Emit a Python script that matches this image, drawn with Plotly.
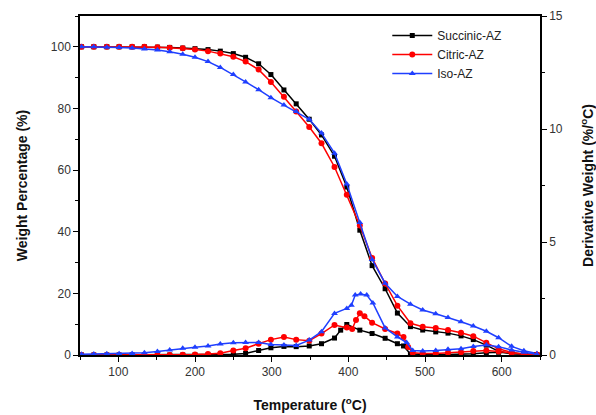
import plotly.graph_objects as go

# ---------------- data ----------------
temp_tga = [52, 68, 85, 101, 118, 134, 151, 167, 184, 200, 217, 233, 250, 266, 283, 299,
            316, 332, 349, 365, 382, 398, 415, 431, 448, 464, 481, 497, 514, 530, 547,
            563, 580, 596, 613, 629, 646]

tga_succinic = [100, 100, 100, 100, 100, 100, 99.9, 99.8, 99.6, 99.4, 99.1, 98.6, 97.8, 96.6,
                94.5, 91, 86, 81.5, 76.5, 71.4, 64.5, 54.5, 40.5, 29, 21.5, 13.6, 9.2, 8.1,
                7.5, 7.1, 6.2, 5.0, 3.2, 1.2, 0.4, 0.1, 0.0]
tga_citric = [100, 100, 100, 100, 100, 100, 99.9, 99.7, 99.5, 99.1, 98.6, 97.8, 96.8, 95.2,
              92.6, 88.6, 83.8, 79, 74, 68.7, 61, 52, 42, 31.5, 23.2, 16, 10.3, 9.2, 8.8,
              8.1, 7.2, 6.1, 4.0, 2.0, 0.8, 0.3, 0.1]
tga_iso = [100, 100, 99.9, 99.8, 99.6, 99.3, 99, 98.4, 97.6, 96.6, 95.2, 93.3, 91, 88.6,
           86.1, 83.5, 81.1, 79, 76.5, 72, 65.5, 55.5, 43, 31, 23.3, 19, 16.5, 14.6, 13.4,
           12.2, 10.8, 9.4, 7.7, 5.6, 2.8, 1.4, 0.5]

temp_dtg_succinic = [52, 68, 85, 101, 118, 134, 151, 167, 184, 200, 217, 233, 250, 266, 283,
                     299, 316, 332, 349, 365, 382, 390, 398, 415, 431, 448, 464, 472, 481,
                     497, 514, 530, 547, 563, 580, 596, 613, 629, 646]
dtg_succinic = [0, 0, 0, 0, 0, 0, 0, 0, 0, 0, 0, 0.02, 0.03, 0.07, 0.2, 0.32, 0.38, 0.37,
                0.4, 0.5, 0.75, 1.1, 1.35, 1.1, 0.95, 0.74, 0.5, 0.4, 0.04, 0.02, 0.02, 0.02,
                0.03, 0.05, 0.1, 0.12, 0.08, 0.03, 0.01]

temp_dtg_citric = [52, 68, 85, 101, 118, 134, 151, 167, 184, 200, 217, 233, 250, 266, 283,
                   299, 316, 332, 349, 365, 382, 398, 405, 410, 415, 421, 431, 448, 464, 472,
                   478, 484, 497, 514, 530, 547, 563, 580, 596, 613, 629, 646]
dtg_citric = [0, 0, 0, 0, 0, 0, 0, 0, 0.01, 0.02, 0.04, 0.08, 0.2, 0.3, 0.5, 0.68, 0.8, 0.68,
              0.63, 0.95, 1.33, 1.22, 1.15, 1.55, 1.85, 1.72, 1.43, 1.15, 0.95, 0.8, 0.35,
              0.1, 0.07, 0.07, 0.1, 0.12, 0.18, 0.2, 0.15, 0.08, 0.03, 0.01]

temp_dtg_iso = [52, 68, 85, 101, 118, 134, 151, 167, 184, 200, 217, 233, 250, 266, 283, 299,
                316, 332, 349, 365, 382, 398, 404, 409, 416, 424, 432, 448, 464, 476, 484,
                497, 514, 530, 547, 563, 580, 596, 613, 629, 646]
dtg_iso = [0.03, 0.04, 0.05, 0.06, 0.07, 0.1, 0.15, 0.22, 0.3, 0.34, 0.4, 0.49, 0.54, 0.55,
           0.55, 0.46, 0.44, 0.42, 0.66, 1.03, 1.84, 2.06, 2.2, 2.65, 2.7, 2.65, 2.3, 1.2,
           0.8, 0.55, 0.2, 0.18, 0.2, 0.25, 0.28, 0.38, 0.44, 0.37, 0.22, 0.12, 0.03]

names = ["Succinic-AZ", "Citric-AZ", "Iso-AZ"]
colors = ["#000000", "#ff0000", "#1f3fff"]
symbols = ["square", "circle", "triangle-up"]
sizes = [5, 6, 6]

x_ticks = [100, 200, 300, 400, 500, 600]

# ---------------- figure ----------------
fig = go.Figure()

tga_sets = [tga_succinic, tga_citric, tga_iso]
dtg_sets = [(temp_dtg_succinic, dtg_succinic), (temp_dtg_citric, dtg_citric),
            (temp_dtg_iso, dtg_iso)]

for i in range(3):
    fig.add_trace(go.Scatter(
        x=temp_tga, y=tga_sets[i], name=names[i], mode="lines+markers",
        line=dict(color=colors[i], width=1.5),
        marker=dict(symbol=symbols[i], size=sizes[i], color=colors[i]),
        yaxis="y", showlegend=True))

for i in range(3):
    tx, dy = dtg_sets[i]
    fig.add_trace(go.Scatter(
        x=tx, y=dy, name=names[i], mode="lines+markers",
        line=dict(color=colors[i], width=1.5),
        marker=dict(symbol=symbols[i], size=sizes[i], color=colors[i]),
        yaxis="y2", showlegend=False))

font_family = "Liberation Sans, Arial, sans-serif"

fig.update_layout(
    width=596, height=415,
    margin=dict(l=80, r=56, t=16, b=60),
    paper_bgcolor="white", plot_bgcolor="white",
    font=dict(family=font_family, size=12, color="#333333"),
    showlegend=True,
    legend=dict(x=0.668, y=0.985, xanchor="left", yanchor="top",
                bgcolor="rgba(0,0,0,0)", font=dict(size=12, color="#222222"),
                tracegroupgap=0, itemwidth=40),
    xaxis=dict(
        range=[50, 650], tickvals=x_ticks, showgrid=False, zeroline=False,
        showline=True, linecolor="#000", linewidth=1.5, mirror=True, automargin=False,
        ticks="outside", ticklen=5, tickwidth=1.2, tickcolor="#000",
        minor=dict(ticks="outside", dtick=50, ticklen=3, tickcolor="#000", tickwidth=1),
        title=dict(text="<b>Temperature (<sup>o</sup>C)</b>", font=dict(size=14, color="#111"),
                   standoff=22)),
    yaxis=dict(
        range=[0, 110], tickvals=[0, 20, 40, 60, 80, 100], showgrid=False, zeroline=False,
        showline=True, linecolor="#000", linewidth=1.5, automargin=False,
        ticks="outside", ticklen=5, tickwidth=1.2, tickcolor="#000",
        minor=dict(ticks="outside", dtick=10, ticklen=3, tickcolor="#000", tickwidth=1),
        title=dict(text="<b>Weight Percentage (%)</b>", font=dict(size=14, color="#111"),
                   standoff=20)),
    yaxis2=dict(
        range=[0, 15], tickvals=[0, 5, 10, 15], overlaying="y", side="right",
        showgrid=False, zeroline=False, automargin=False,
        showline=True, linecolor="#000", linewidth=1.5,
        ticks="outside", ticklen=5, tickwidth=1.2, tickcolor="#000",
        minor=dict(ticks="outside", dtick=2.5, ticklen=3, tickcolor="#000", tickwidth=1),
        title=dict(text="<b>Derivative Weight (%/<sup>o</sup>C)</b>",
                   font=dict(size=14, color="#111"), standoff=22)),
)

fig.write_html("out.html")
